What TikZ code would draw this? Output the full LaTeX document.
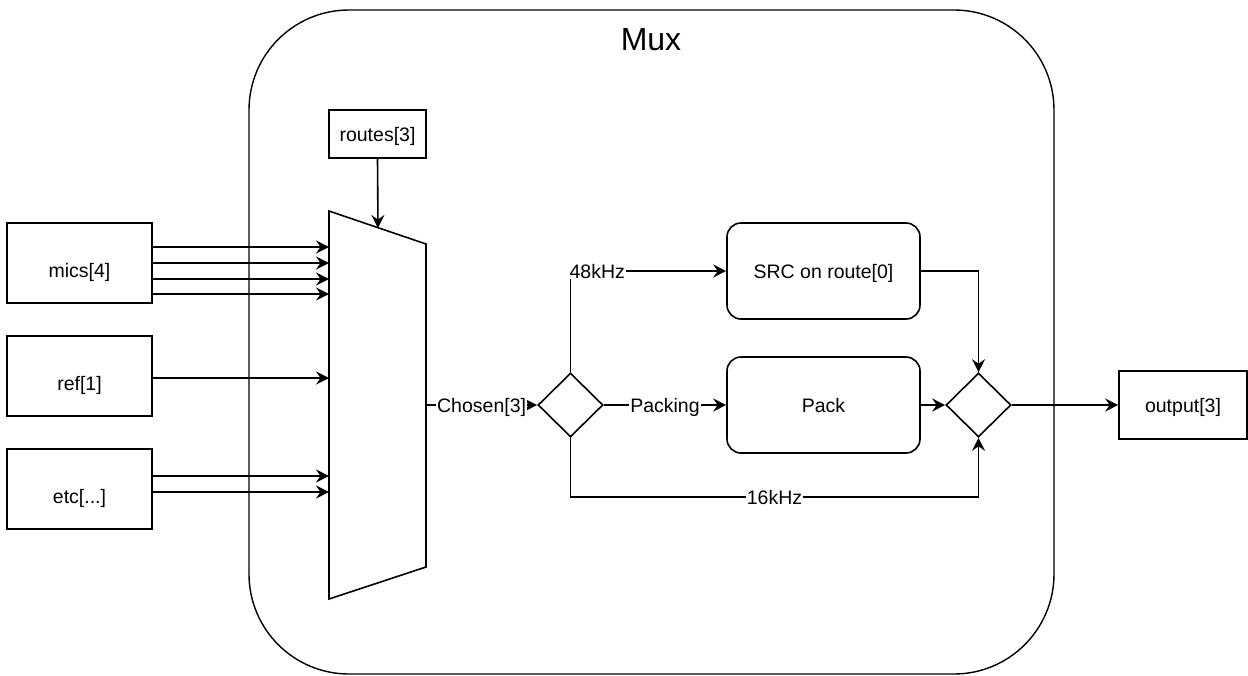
\documentclass[tikz,border=0pt]{standalone}
\usepackage{fontspec}
\setmainfont{Liberation Sans}
\usetikzlibrary{arrows.meta,shapes.geometric,calc}

\begin{document}
\begin{tikzpicture}[x=1pt,y=-1pt,
  line width=1.6pt,
  font=\fontsize{19.5}{22}\selectfont,
  txt/.style={text height=14pt,text depth=0pt},
  box/.style={draw,rectangle,inner sep=0pt,align=center,txt},
  inbox/.style={box,minimum width=145pt,minimum height=80pt,text height=28pt},
  rbox/.style={box,rounded corners=14pt},
  dia/.style={draw,diamond,inner sep=0pt,minimum width=65pt,minimum height=64pt},
  link/.style={-{Stealth[length=13pt,width=13pt,inset=4.5pt]}},
  lbl/.style={fill=white,inner sep=1pt,txt}
]
\useasboundingbox (0,0) rectangle (1248,675);

% enclosing Mux block
\draw[line width=1.4pt,rounded corners=100pt] (249,10) rectangle (1054,674);
\node[font=\fontsize{32}{36}\selectfont] (title) at (651,40) {Mux};

% inputs
\node[inbox] (mics) at (79.5,263) {mics[4]};
\node[inbox] (ref)  at (79.5,376) {ref[1]};
\node[inbox] (etc)  at (79.5,489) {etc[...]};
\node[box,minimum width=97pt,minimum height=48pt] (routes) at (377.5,134) {routes[3]};

% multiplexer body
\draw (329,211) -- (426,244) -- (426,567) -- (329,599) -- cycle;
\coordinate (m1) at (329,247);
\coordinate (m2) at (329,263);
\coordinate (m3) at (329,279);
\coordinate (m4) at (329,294);
\coordinate (r1) at (329,378);
\coordinate (e1) at (329,476);
\coordinate (e2) at (329,492);
\coordinate (sel) at (378,228);
\coordinate (mout) at (426,405);

% processing stages
\node[dia] (d1) at (570.5,405) {};
\node[rbox,minimum width=193pt,minimum height=96pt] (src)  at (823.5,271) {SRC on route[0]};
\node[rbox,minimum width=193pt,minimum height=96pt] (pack) at (823.5,405) {Pack};
\node[dia] (d2) at (978.5,405) {};
\node[box,minimum width=128pt,minimum height=68pt] (out) at (1183,405) {output[3]};
\coordinate (lo1) at (570.5,497);
\coordinate (lo2) at (978.5,497);

% input connections
\foreach \c in {m1,m2,m3,m4} \draw[link] (mics.east |- \c) -- (\c);
\draw[link] (ref.east |- r1) -- (r1);
\foreach \c in {e1,e2} \draw[link] (etc.east |- \c) -- (\c);
\draw[link] (routes.south) -- (sel);

% data path
\draw[link] (mout) -- node[lbl] {Chosen[3]} (d1.west);
\draw[link] (d1.north) |- node[lbl,pos=0.586] {48kHz} (src.west);
\draw[link] (d1.east) -- node[lbl] {Packing} (pack.west);
\draw[link] (d1.south) -- (lo1) -- node[lbl] {16kHz} (lo2) -- (d2.south);
\draw[link] (src.east) -| (d2.north);
\draw[link] (pack.east) -- (d2.west);
\draw[link] (d2.east) -- (out.west);
\end{tikzpicture}
\end{document}
